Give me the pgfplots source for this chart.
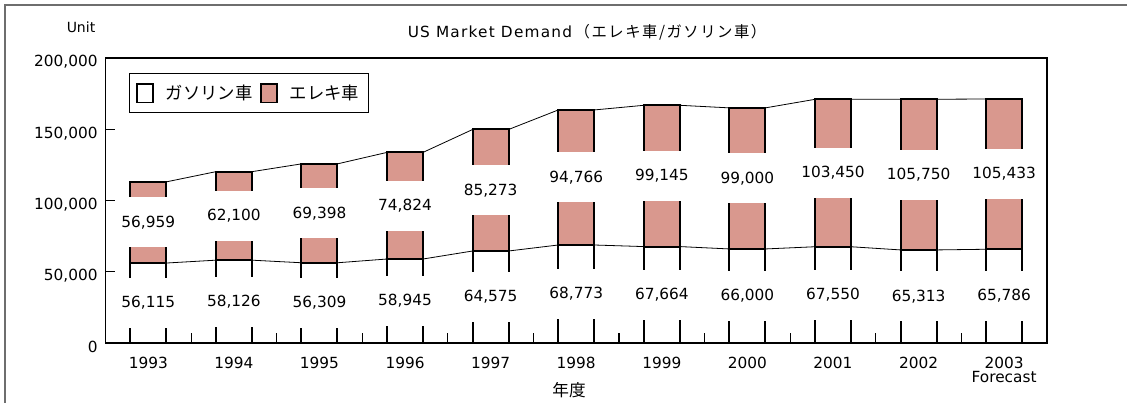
\documentclass[border=0pt]{standalone}
\usepackage{fontspec}
\setmainfont{DejaVu Sans}
\newfontfamily\cjk{Noto Sans CJK JP}
\usepackage{pgfplots}
\usepackage{pgfplotstable}
\pgfplotsset{compat=1.18}
\definecolor{elepink}{HTML}{D9988E}
\definecolor{framegray}{HTML}{6E6E6E}
\newcommand\numfont{\fontsize{11.5pt}{13.8pt}\selectfont}

\pgfplotstableread{
year gas ele gaslab elelab
1993 56115 56959 56,115 56,959
1994 58126 62100 58,126 62,100
1995 56309 69398 56,309 69,398
1996 58945 74824 58,945 74,824
1997 64575 85273 64,575 85,273
1998 68773 94766 68,773 94,766
1999 67664 99145 67,664 99,145
2000 66000 99000 66,000 99,000
2001 67550 103450 67,550 103,450
2002 65313 105750 65,313 105,750
2003 65786 105433 65,786 105,433
}\datatable

\begin{document}
\begin{tikzpicture}[x=0.75pt,y=-0.75pt]
\useasboundingbox (0,0) rectangle (1127,403);
\draw[framegray, line width=1.5pt] (5,430) -- (5,5) -- (1150,5);
\begin{axis}[
  at={(79.125pt,-43.5pt)}, anchor=north west,
  scale only axis, width=706.1pt, height=213.75pt,
  xmin=1992.5, xmax=2003.5, ymin=0, ymax=200000,
  axis line style={line width=1.1pt},
  tick align=inside,
  xtick={1993.5,1994.5,...,2003.5},
  xticklabels={1993,1994,1995,1996,1997,1998,1999,2000,2001,2002,{2003\\[-3pt]Forecast}},
  xticklabel style={font=\numfont, align=center, yshift=-7pt, xshift=-32.1pt},
  xtick pos=bottom,
  major x tick style={line width=0.8pt, black},
  ytick={0,50000,100000,150000,200000},
  yticklabels={0,{50,000},{100,000},{150,000},{200,000}},
  scaled y ticks=false,
  ytick pos=left,
  major tick length=7.2pt,
  major y tick style={line width=1pt, black},
  yticklabel style={font=\numfont, xshift=-2.4pt, yshift=-3pt},
  legend image code/.code={\draw[#1, line width=1.1pt] (0pt,-7pt) rectangle (12pt,7pt);},
  legend columns=2,
  legend style={at={(0.025,0.947)}, anchor=north west, draw=black, line width=0.8pt,
    font=\cjk\fontsize{13pt}{15pt}\selectfont, inner xsep=5pt, inner ysep=6.5pt,
    /tikz/every odd column/.append style={column sep=7pt},
    /tikz/every even column/.append style={column sep=4pt}},
]
% bars: total (pink) then gasoline (white) over it
\addplot[ybar, bar width=27pt, bar shift=0pt, fill=elepink, draw=black, line width=1.5pt, forget plot]
  table[x=year, y expr=\thisrow{gas}+\thisrow{ele}] {\datatable};
\addplot[ybar, bar width=27pt, bar shift=0pt, fill=white, draw=black, line width=1.5pt, forget plot]
  table[x=year, y=gas] {\datatable};
% centred value labels on white boxes
\addplot[draw=none, forget plot, nodes near coords, point meta=explicit symbolic,
  nodes near coords align=center,
  every node near coord/.append style={anchor=center, fill=white, inner sep=0pt,
    minimum width=49.5pt, minimum height=37.5pt, font=\numfont}]
  table[x=year, y expr=\thisrow{gas}/2, meta=gaslab] {\datatable};
\addplot[draw=none, forget plot, nodes near coords, point meta=explicit symbolic,
  nodes near coords align=center,
  every node near coord/.append style={anchor=center, fill=white, inner sep=0pt,
    minimum width=49.5pt, minimum height=37.5pt, font=\numfont}]
  table[x=year, y expr=\thisrow{gas}+\thisrow{ele}/2, meta=elelab] {\datatable};
% series lines
\addplot[black, line width=0.6pt, forget plot] coordinates {
(1992.79,56115)(1993.21,56115)(1993.79,58126)(1994.21,58126)(1994.79,56309)(1995.21,56309)
(1995.79,58945)(1996.21,58945)(1996.79,64575)(1997.21,64575)(1997.79,68773)(1998.21,68773)
(1998.79,67664)(1999.21,67664)(1999.79,66000)(2000.21,66000)(2000.79,67550)(2001.21,67550)
(2001.79,65313)(2002.21,65313)(2002.79,65786)(2003.21,65786)};
\addplot[black, line width=0.6pt, forget plot] coordinates {
(1992.79,113074)(1993.21,113074)(1993.79,120226)(1994.21,120226)(1994.79,125707)(1995.21,125707)
(1995.79,133769)(1996.21,133769)(1996.79,149848)(1997.21,149848)(1997.79,163539)(1998.21,163539)
(1998.79,166809)(1999.21,166809)(1999.79,165000)(2000.21,165000)(2000.79,171000)(2001.21,171000)
(2001.79,171063)(2002.21,171063)(2002.79,171219)(2003.21,171219)};
\addlegendimage{fill=white, draw=black}
\addlegendentry{ガソリン車}
\addlegendimage{fill=elepink, draw=black}
\addlegendentry{エレキ車}
\end{axis}
\node[font=\fontsize{10.5pt}{12pt}\selectfont] at (81,27) {Unit};
\node[font=\fontsize{11.5pt}{13pt}\selectfont] at (587,32)
  {{\addfontfeatures{LetterSpace=8}US Market Demand}\,{\cjk\addfontfeatures{LetterSpace=10}（エレキ車/ガソリン車）}};
\node[font=\cjk\fontsize{12.5pt}{15pt}\selectfont] at (569,390) {年度};
\end{tikzpicture}
\end{document}
